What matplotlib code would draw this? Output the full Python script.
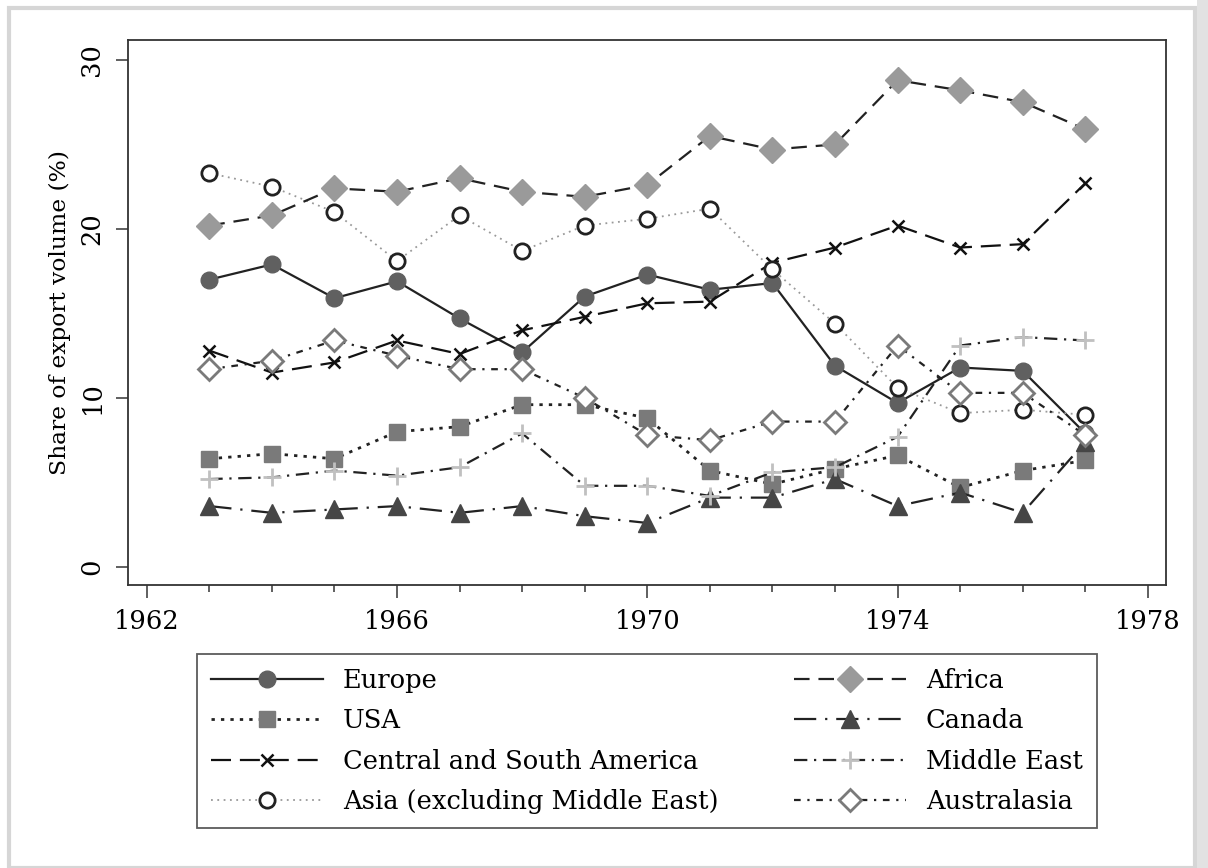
import numpy as np
import matplotlib
matplotlib.use("Agg")
import matplotlib.pyplot as plt
from matplotlib.patches import Rectangle
from matplotlib.ticker import MultipleLocator

years = list(range(1963, 1978))

europe = [17.0, 17.9, 15.9, 16.9, 14.7, 12.7, 16.0, 17.3, 16.4, 16.8, 11.9, 9.7, 11.8, 11.6, 7.9]
africa = [20.2, 20.8, 22.4, 22.2, 23.0, 22.2, 21.9, 22.6, 25.5, 24.7, 25.0, 28.8, 28.2, 27.5, 25.9]
usa = [6.4, 6.7, 6.4, 8.0, 8.3, 9.6, 9.6, 8.8, 5.7, 4.9, 5.8, 6.6, 4.7, 5.7, 6.3]
canada = [3.6, 3.2, 3.4, 3.6, 3.2, 3.6, 3.0, 2.6, 4.1, 4.1, 5.2, 3.6, 4.4, 3.2, 7.4]
csa = [12.8, 11.5, 12.1, 13.4, 12.6, 14.0, 14.8, 15.6, 15.7, 18.0, 18.9, 20.2, 18.9, 19.1, 22.7]
mideast = [5.2, 5.3, 5.7, 5.4, 5.9, 7.9, 4.8, 4.8, 4.2, 5.6, 5.9, 7.7, 13.1, 13.6, 13.4]
asia = [23.3, 22.5, 21.0, 18.1, 20.8, 18.7, 20.2, 20.6, 21.2, 17.6, 14.4, 10.6, 9.1, 9.3, 9.0]
australasia = [11.7, 12.2, 13.4, 12.5, 11.7, 11.7, 10.0, 7.8, 7.5, 8.6, 8.6, 13.1, 10.3, 10.3, 7.8]

plt.rcParams['font.family'] = ['DejaVu Serif']

fig = plt.figure(figsize=(12.08, 8.68), dpi=100)
ax = fig.add_axes([128/1208, 1-585/868, (1166-128)/1208, (585-40)/868])

lines = {}
lines['Europe'] = ax.plot(years, europe, color='#222222', lw=1.6, ls='-',
                          marker='o', ms=12, mfc='#606060', mec='#606060')[0]
lines['USA'] = ax.plot(years, usa, color='#222222', lw=2, ls=(0, (1.2, 2.2)),
                       marker='s', ms=11, mfc='#7a7a7a', mec='#7a7a7a')[0]
lines['Central and South America'] = ax.plot(years, csa, color='#111111', lw=1.6, ls=(0, (9, 4)),
                                             marker='x', ms=9, mew=1.8, mec='#111111')[0]
lines['Asia (excluding Middle East)'] = ax.plot(years, asia, color='#999999', lw=1.3, ls=(0, (1, 2.5)),
                                                marker='o', ms=11, mfc='white', mec='#222222', mew=2)[0]
lines['Africa'] = ax.plot(years, africa, color='#222222', lw=1.6, ls=(0, (7, 4)),
                          marker='D', ms=13, mfc='#9a9a9a', mec='#9a9a9a')[0]
lines['Canada'] = ax.plot(years, canada, color='#222222', lw=1.6, ls=(0, (10, 4, 1, 4)),
                          marker='^', ms=13, mfc='#464646', mec='#464646')[0]
lines['Middle East'] = ax.plot(years, mideast, color='#222222', lw=1.6, ls=(0, (6, 3, 1, 3)),
                               marker='+', ms=13, mew=2, mec='#c0c0c0')[0]
lines['Australasia'] = ax.plot(years, australasia, color='#222222', lw=1.6, ls=(0, (3, 3, 1, 3)),
                               marker='D', ms=11, mfc='white', mec='#7a7a7a', mew=2)[0]

ax.set_xlim(1961.7, 1978.29)
ax.set_ylim(-1.07, 31.18)
ax.set_xticks([1962, 1966, 1970, 1974, 1978])
ax.xaxis.set_minor_locator(MultipleLocator(1))
ax.set_yticks([0, 10, 20, 30])
ax.tick_params(axis='both', which='major', length=9, width=1.2, color='#444444', labelsize=18.5, pad=8)
ax.tick_params(axis='x', which='minor', length=5, width=1.2, color='#444444')
for lab in ax.get_yticklabels():
    lab.set_rotation(90)
    lab.set_va('center')
ax.set_ylabel('Share of export volume (%)', fontsize=16.8, labelpad=6)
for sp in ax.spines.values():
    sp.set_color('#333333')
    sp.set_linewidth(1.3)

order = ['Europe', 'USA', 'Central and South America', 'Asia (excluding Middle East)',
         'Africa', 'Canada', 'Middle East', 'Australasia']
leg = fig.legend([lines[k] for k in order], order, ncol=2, mode='expand',
                 bbox_to_anchor=(197/1208, 1-830/868, 900/1208, 178/868), loc='center',
                 fontsize=18.5, handlelength=4.35, handletextpad=0.78, labelspacing=0.6,
                 borderaxespad=0, frameon=True, fancybox=False, edgecolor='#333333',
                 borderpad=0.55, columnspacing=2.0)
leg.get_frame().set_linewidth(1.3)

# outer page frame
fig.patches.append(Rectangle((9/1208, 0), (1195-9)/1208, 1-8/868, transform=fig.transFigure,
                             fill=False, edgecolor='#d6d6d6', lw=3))
fig.patches.append(Rectangle((1197/1208, 0), 11/1208, 1, transform=fig.transFigure,
                             facecolor='#e2e2e2', edgecolor='none'))

fig.savefig('out.png', dpi=100)
